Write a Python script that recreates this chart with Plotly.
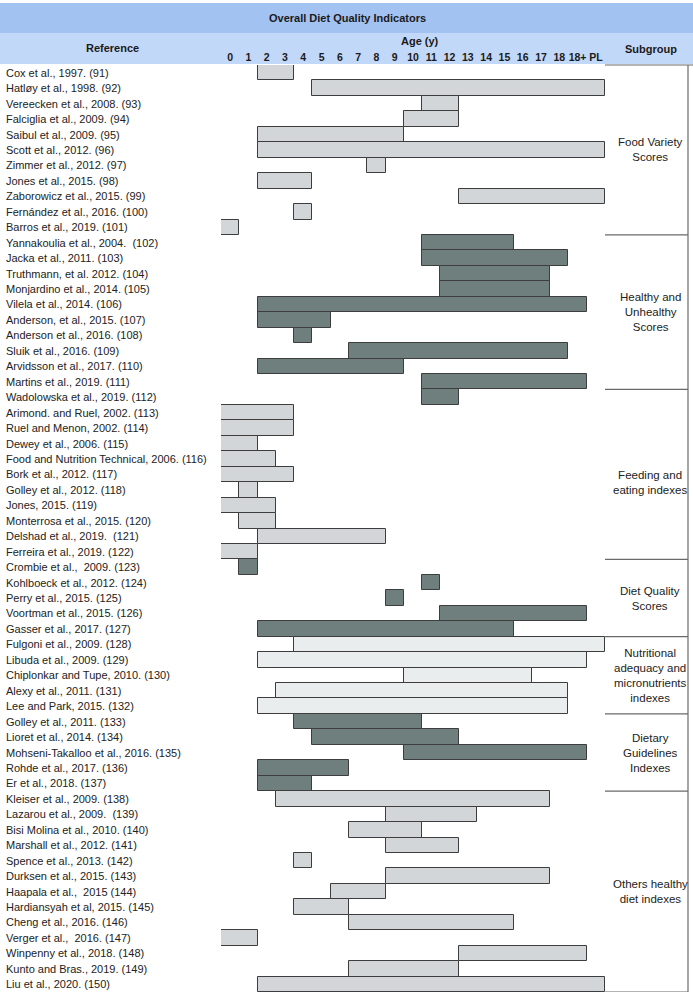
import plotly.graph_objects as go

# ---------------- data ----------------
age_labels = ["0", "1", "2", "3", "4", "5", "6", "7", "8", "9", "10", "11", "12",
              "13", "14", "15", "16", "17", "18", "18+", "PL"]

references = [
    "Cox et al., 1997. (91)", "Hatløy et al., 1998. (92)", "Vereecken et al., 2008. (93)",
    "Falciglia et al., 2009. (94)", "Saibul et al., 2009. (95)", "Scott et al., 2012. (96)",
    "Zimmer et al., 2012. (97)", "Jones et al., 2015. (98)", "Zaborowicz et al., 2015. (99)",
    "Fernández et al., 2016. (100)", "Barros et al., 2019. (101)",
    "Yannakoulia et al., 2004.  (102)", "Jacka et al., 2011. (103)", "Truthmann, et al. 2012. (104)",
    "Monjardino et al., 2014. (105)", "Vilela et al., 2014. (106)", "Anderson, et al., 2015. (107)",
    "Anderson et al., 2016. (108)", "Sluik et al., 2016. (109)", "Arvidsson et al., 2017. (110)",
    "Martins et al., 2019. (111)", "Wadolowska et al., 2019. (112)",
    "Arimond. and Ruel, 2002. (113)", "Ruel and Menon, 2002. (114)", "Dewey et al., 2006. (115)",
    "Food and Nutrition Technical, 2006. (116)", "Bork et al., 2012. (117)",
    "Golley et al., 2012. (118)", "Jones, 2015. (119)", "Monterrosa et al., 2015. (120)",
    "Delshad et al., 2019.  (121)", "Ferreira et al., 2019. (122)",
    "Crombie et al.,  2009. (123)", "Kohlboeck et al., 2012. (124)", "Perry et al., 2015. (125)",
    "Voortman et al., 2015. (126)", "Gasser et al., 2017. (127)",
    "Fulgoni et al., 2009. (128)", "Libuda et al., 2009. (129)", "Chiplonkar and Tupe, 2010. (130)",
    "Alexy et al., 2011. (131)", "Lee and Park, 2015. (132)",
    "Golley et al., 2011. (133)", "Lioret et al., 2014. (134)",
    "Mohseni-Takalloo et al., 2016. (135)", "Rohde et al., 2017. (136)", "Er et al., 2018. (137)",
    "Kleiser et al., 2009. (138)", "Lazarou et al., 2009.  (139)", "Bisi Molina et al., 2010. (140)",
    "Marshall et al., 2012. (141)", "Spence et al., 2013. (142)", "Durksen et al., 2015. (143)",
    "Haapala et al.,  2015 (144)", "Hardiansyah et al, 2015. (145)", "Cheng et al., 2016. (146)",
    "Verger et al.,  2016. (147)", "Winpenny et al., 2018. (148)", "Kunto and Bras., 2019. (149)",
    "Liu et al., 2020. (150)",
]

# first and last age column covered (inclusive)
age_from = ["2", "5", "11", "10", "2", "2", "8", "2", "13", "4", "0",
            "11", "11", "12", "12", "2", "2", "4", "7", "2", "11", "11",
            "0", "0", "0", "0", "0", "1", "0", "1", "2", "0",
            "1", "11", "9", "12", "2",
            "4", "2", "10", "3", "2",
            "4", "5", "10", "2", "2",
            "3", "9", "7", "9", "4", "9", "6", "4", "7", "0", "13", "7", "2"]
age_to = ["3", "PL", "12", "12", "9", "PL", "8", "4", "PL", "4", "0",
          "15", "18", "17", "17", "18+", "5", "4", "18", "9", "18+", "12",
          "3", "3", "1", "2", "3", "1", "2", "2", "8", "1",
          "1", "11", "9", "18+", "15",
          "PL", "18+", "16", "18", "18",
          "10", "12", "18+", "6", "4",
          "17", "13", "10", "12", "4", "17", "8", "6", "15", "1", "18+", "12", "PL"]

# shade class of each bar: L = light grey, D = dark grey, V = very light
shade = (["L"] * 11 + ["D"] * 11 + ["L"] * 10 + ["D"] * 5 + ["V"] * 5 + ["D"] * 5 + ["L"] * 13)

subgroups = ["Food Variety<br>Scores", "Healthy and<br>Unhealthy<br>Scores",
             "Feeding and<br>eating indexes", "Diet Quality<br>Scores",
             "Nutritional<br>adequacy and<br>micronutrients<br>indexes",
             "Dietary<br>Guidelines<br>Indexes", "Others healthy<br>diet indexes"]
subgroup_sizes = [11, 10, 11, 5, 5, 5, 13]

# ---------------- styling / layout ----------------
shade_colors = {"L": "#d3d6d8", "D": "#6f7f7e", "V": "#e9eded"}
FONT = "Liberation Sans Narrow, Arial Narrow, Liberation Sans, Arial, sans-serif"
FIG_W, FIG_H = 693, 997
L, R, T, B = 221, 88, 65, 5
PW, PH = FIG_W - L - R, FIG_H - T - B


def px_x(p):
    return (p - L) / PW


def px_y(p):
    return 1 - (p - T) / PH


n = len(references)
rows = list(range(n))
starts = [age_labels.index(a) for a in age_from]
ends = [age_labels.index(a) + 1 for a in age_to]

fig = go.Figure()
fig.add_trace(go.Bar(
    orientation="h",
    y=rows,
    x=[e - s for s, e in zip(starts, ends)],
    base=starts,
    width=1,
    marker=dict(color=[shade_colors[c] for c in shade],
                line=dict(color="#3d3d3d", width=1)),
    hoverinfo="skip",
    showlegend=False,
))

shapes = []
# header bands
shapes.append(dict(type="rect", xref="paper", yref="paper", x0=px_x(0), x1=px_x(FIG_W),
                   y0=px_y(33), y1=px_y(3), fillcolor="#a2c2f2", line=dict(width=0), layer="below"))
shapes.append(dict(type="rect", xref="paper", yref="paper", x0=px_x(0), x1=px_x(FIG_W),
                   y0=px_y(64), y1=px_y(33), fillcolor="#c2d8f8", line=dict(width=0), layer="below"))
# subgroup box
line_style = dict(color="#6a6a6a", width=1.2)
shapes.append(dict(type="line", xref="paper", yref="paper", x0=px_x(688), x1=px_x(688),
                   y0=1, y1=0, line=line_style))
shapes.append(dict(type="line", xref="paper", yref="paper", x0=1, x1=px_x(FIG_W),
                   y0=1, y1=1, line=line_style))
annotations = []
row0 = 0
for name, size in zip(subgroups, subgroup_sizes):
    last = row0 + size - 1
    shapes.append(dict(type="line", xref="paper", yref="y", x0=1, x1=px_x(688),
                       y0=last + 0.5, y1=last + 0.5, line=line_style))
    center = (row0 + last) / 2
    if name.startswith("Feeding"):
        center += 0.5
    annotations.append(dict(xref="paper", yref="y", x=px_x(650), y=center, text=name,
                            showarrow=False, xanchor="center", yanchor="middle",
                            font=dict(family=FONT, size=11.5, color="#222")))
    row0 += size

# reference labels
for i, ref in enumerate(references):
    annotations.append(dict(xref="paper", yref="y", x=px_x(4), y=i, text=ref, showarrow=False,
                            xanchor="left", yanchor="middle",
                            font=dict(family=FONT, size=11, color="#222")))

# header texts
hdr_font = dict(family=FONT, size=11, color="#1a1a1a", weight="bold")
annotations.append(dict(xref="paper", yref="paper", x=px_x(347), y=px_y(18),
                        text="Overall Diet Quality Indicators", showarrow=False,
                        xanchor="center", yanchor="middle", font=hdr_font))
annotations.append(dict(xref="paper", yref="paper", x=px_x(112), y=px_y(48), text="Reference",
                        showarrow=False, xanchor="center", yanchor="middle", font=hdr_font))
annotations.append(dict(xref="paper", yref="paper", x=px_x(651), y=px_y(49), text="Subgroup",
                        showarrow=False, xanchor="center", yanchor="middle", font=hdr_font))
annotations.append(dict(xref="x", yref="paper", x=len(age_labels) / 2 + 0.4, y=px_y(41), text="Age (y)",
                        showarrow=False, xanchor="center", yanchor="middle", font=hdr_font))

fig.update_layout(
    width=FIG_W, height=FIG_H,
    margin=dict(l=L, r=R, t=T, b=B, pad=0),
    paper_bgcolor="white", plot_bgcolor="white",
    bargap=0, barmode="overlay",
    shapes=shapes, annotations=annotations,
    xaxis=dict(range=[0, len(age_labels)], side="top", showgrid=False, zeroline=False,
               showline=False, ticks="", tickmode="array", tickangle=0,
               tickvals=[i + 0.5 for i in range(len(age_labels))], ticktext=age_labels,
               tickfont=dict(family=FONT, size=10.5, color="#1a1a1a", weight="bold"),
               ticklabelstandoff=1, fixedrange=True),
    yaxis=dict(range=[n - 0.5, -0.5], showgrid=False, zeroline=False, showline=False,
               showticklabels=False, ticks="", fixedrange=True),
)

fig.write_html("out.html", config={"displayModeBar": False},
               post_script="document.body.style.margin='0px';document.body.style.overflow='hidden';")
